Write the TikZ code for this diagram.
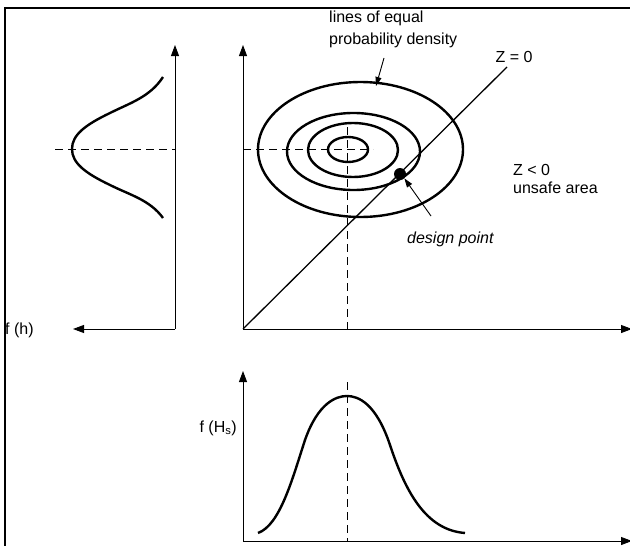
\documentclass[tikz,border=0pt]{standalone}
\usepackage{fontspec}
\setmainfont{Liberation Sans}
\usetikzlibrary{arrows.meta}
\begin{document}
\begin{tikzpicture}[x=1pt,y=-1pt,
  axis/.style={line width=0.9pt,-{Triangle[length=11pt,width=8pt]}},
  pointer/.style={line width=0.9pt,-{Triangle[length=9pt,width=6pt]}},
  curve/.style={line width=2.4pt},
  dashline/.style={line width=0.9pt,dash pattern=on 8pt off 5pt},
  lbl/.style={font=\fontsize{16}{20}\selectfont,inner sep=0pt}]
\useasboundingbox (0,0) rectangle (630,546);
% frame
\draw[line width=2.5pt] (5,548) -- (5,8) -- (632,8);
% ---- top-left plot f(h)
\coordinate (O1) at (175,329);
\coordinate (Y1) at (175,45);
\coordinate (X1) at (73,329);
\draw[axis] (O1) -- (Y1);
\draw[axis] (O1) -- (X1);
\node[lbl,anchor=base west] (fh) at (5,334) {f (h)};
\coordinate (d1a) at (55,149);
\coordinate (d1b) at (175,149);
\draw[dashline] (d1a) -- (d1b);
\draw[curve] (163,77) .. controls (150,97) and (130,103) .. (110,113)
  .. controls (85,125) and (72,135) .. (72,149)
  .. controls (72,163) and (85,173) .. (110,185)
  .. controls (130,195) and (150,200) .. (163,218);
% ---- main plot
\coordinate (O2) at (243,329);
\coordinate (Y2) at (243,45);
\coordinate (X2) at (632,329);
\draw[axis] (O2) -- (Y2);
\draw[axis] (O2) -- (X2);
\coordinate (d2a) at (243,149);
\coordinate (d2b) at (373,149);
\coordinate (d3a) at (347,127);
\coordinate (d3b) at (347,329);
\draw[dashline] (d2a) -- (d2b);
\draw[dashline] (d3a) -- (d3b);
\draw[curve] (360.5,149.5) ellipse[x radius=102.5,y radius=67.5];
\draw[curve] (353.5,151.5) ellipse[x radius=66.5,y radius=38.5];
\draw[curve] (353,150) ellipse[x radius=45,y radius=27];
\draw[curve] (348,149.5) ellipse[x radius=20,y radius=12.5];
\coordinate (Zend) at (507,67);
\draw[line width=1.3pt] (O2) -- (Zend);
\node[lbl,anchor=base] (z0) at (514,63) {Z = 0};
\node[fill=black,circle,inner sep=0pt,minimum size=12pt] (dp) at (400,174) {};
\coordinate (dpa) at (431,216);
\draw[pointer] (dpa) -- (dp.south east);
\node[lbl,anchor=base west,font=\fontsize{16}{20}\selectfont\itshape] (dpl) at (407,243) {design point};
\node[lbl,anchor=base west] (zl) at (513,175) {Z < 0};
\node[lbl,anchor=base west] (ua) at (513,193) {unsafe area};
\node[lbl,anchor=base west] (l1) at (329,22) {lines of equal};
\node[lbl,anchor=base west] (l2) at (329,44) {probability density};
\coordinate (lpa) at (384,58);
\coordinate (lpb) at (376,86);
\draw[pointer] (lpa) -- (lpb);
% ---- bottom plot f(Hs)
\coordinate (O3) at (243,541);
\coordinate (Y3) at (243,371);
\coordinate (X3) at (632,541);
\draw[axis] (O3) -- (Y3);
\draw[axis] (O3) -- (X3);
\coordinate (d4a) at (347,382);
\coordinate (d4b) at (347,541);
\draw[dashline] (d4a) -- (d4b);
\draw[curve] (258,533) .. controls (280,525) and (292,480) .. (305,440)
  .. controls (318,403) and (336,396) .. (347,396)
  .. controls (358,396) and (376,403) .. (390,445)
  .. controls (405,490) and (425,530) .. (465,533);
\node[lbl,anchor=base east] (fH) at (237,432) {f (H\textsubscript{s})};
\end{tikzpicture}
\end{document}
